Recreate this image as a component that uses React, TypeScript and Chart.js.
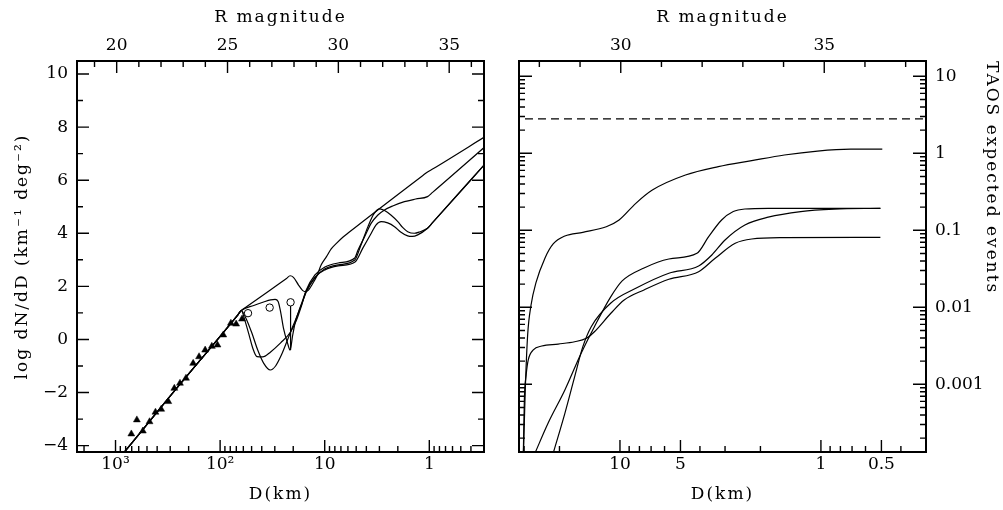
import { useEffect, useRef } from 'react';
import { Chart, registerables } from 'chart.js';

Chart.register(...registerables);

const FONT = 'DejaVu Serif';

// ---------- LEFT PANEL DATA ----------
// shared power-law segment (D in km, log dN/dD)
const HEAD_D = [1000, 316, 67.6, 62.7];
const HEAD_V = [-4.65, -2.24, 0.93, 1.09];

const A_D = [56.8, 34.4, 23.2, 21.4, 19.9, 17.8, 16.3, 15.3, 14.3, 13.1, 11.95, 10.8, 9.62, 8.67, 7.73, 6.67, 5.98, 1.16, 1.04, 0.931, 0.28];
const A_V = [1.21, 1.82, 2.3, 2.4, 2.34, 2.05, 1.85, 1.8, 1.86, 2.09, 2.37, 2.81, 3.12, 3.41, 3.62, 3.86, 4.01, 6.17, 6.31, 6.42, 7.69];

const E_D = [58.1, 53.2, 48.8, 44.4, 39.2, 32.9, 26.4, 21.2, 18.6, 16.7, 15.0, 12.4, 9.95, 7.44, 5.16, 4.8, 4.21, 3.59, 3.1, 2.68, 2.24, 1.73, 1.35, 1.04, 0.931, 0.28];
const E_V = [0.73, 0.21, -0.32, -0.65, -0.66, -0.47, -0.13, 0.28, 0.73, 1.26, 1.86, 2.43, 2.73, 2.88, 3.07, 3.37, 3.82, 4.38, 4.69, 4.88, 5.03, 5.19, 5.29, 5.38, 5.54, 7.33];

const F_D = [56.8, 49.8, 43.7, 38.4, 33.1, 29.5, 25.9, 22.7, 20.3, 18.2, 16.7, 15.0, 12.4, 9.95, 7.44, 5.16, 4.5, 3.86, 3.39, 2.97, 2.68, 2.33, 2.0, 1.8, 1.61, 1.39, 1.24, 1.04, 0.931, 0.28];
const F_V = [0.81, 0.25, -0.4, -0.89, -1.15, -1.0, -0.58, -0.02, 0.47, 0.92, 1.3, 1.79, 2.32, 2.66, 2.81, 2.99, 3.56, 4.25, 4.73, 4.92, 4.86, 4.69, 4.44, 4.22, 4.06, 4.0, 4.05, 4.19, 4.4, 6.7];

const G_D = [47.7, 38.4, 32.9, 29.8, 27.9, 26.4, 24.8, 22.7, 21.4, 20.3, 19.2, 17.8, 16.7, 15.0, 12.4, 9.95, 7.44, 5.13, 4.31, 3.59, 3.24, 2.89, 2.5, 2.15, 1.88, 1.61, 1.45, 1.29, 1.04, 0.931, 0.28];
const G_V = [1.28, 1.41, 1.49, 1.51, 1.43, 1.04, 0.43, -0.13, -0.4, 0.13, 0.62, 1.04, 1.34, 1.83, 2.35, 2.62, 2.77, 2.92, 3.45, 4.0, 4.31, 4.44, 4.39, 4.25, 4.05, 3.9, 3.88, 3.94, 4.19, 4.4, 6.7];

const TRI_D = [706, 625, 548, 473, 415, 366, 313, 274, 242, 212, 181, 159, 139, 120, 106, 93.3, 78.9, 70.3, 61.7];
const TRI_V = [-3.56, -3.03, -3.45, -3.1, -2.74, -2.63, -2.34, -1.84, -1.65, -1.46, -0.9, -0.65, -0.4, -0.26, -0.21, 0.17, 0.61, 0.58, 0.77];

const CIRC_D = [54.1, 33.6, 21.2];
const CIRC_V = [0.99, 1.2, 1.4];

const ERR_D = [21.2, 21.2];
const ERR_V = [1.27, -0.4];

// left axes
const L_X_TICKS = [1000, 100, 10, 1];
const L_X_LABELS = ['10³', '10²', '10', '1'];
const L_X_MINOR = [2000, 900, 800, 700, 600, 500, 400, 300, 200, 90, 80, 70, 60, 50, 40, 30, 20, 9, 8, 7, 6, 5, 4, 3, 2, 0.9, 0.8, 0.7, 0.6, 0.5, 0.4];
const L_TOP_TICKS = [20, 25, 30, 35];
const L_TOP_MINOR = [19, 21, 22, 23, 24, 26, 27, 28, 29, 31, 32, 33, 34, 36];
const L_Y_TICKS = [-4, -2, 0, 2, 4, 6, 8, 10];
const L_Y_MINOR = [-3, -1, 1, 3, 5, 7, 9];

// ---------- RIGHT PANEL DATA ----------
const R1_D = [30.3, 29.6, 28.8, 27.7, 26.2, 23.6, 21.5, 18.8, 15.3, 11.7, 10.1, 8.34, 6.9, 4.72, 3.24, 2.21, 1.52, 1.04, 0.711, 0.495];
const R1_N = [1.0e-4, 8.43e-4, 4.37e-3, 0.0107, 0.0207, 0.0438, 0.0665, 0.0843, 0.0942, 0.111, 0.136, 0.224, 0.333, 0.522, 0.67, 0.802, 0.951, 1.07, 1.13, 1.13];

const R2_D = [30.3, 29.9, 29.3, 28.6, 27.0, 24.5, 20.3, 16.8, 14.7, 13.4, 11.1, 9.53, 7.59, 5.71, 4.06, 3.36, 2.67, 2.21, 1.52, 0.506];
const R2_N = [1.0e-4, 6.38e-4, 1.32e-3, 2.07e-3, 2.79e-3, 3.14e-3, 3.33e-3, 3.57e-3, 3.95e-3, 4.81e-3, 8.36e-3, 0.01245, 0.0168, 0.0231, 0.029, 0.0433, 0.0678, 0.0771, 0.0802, 0.0811];

const R3_D = [26.5, 22.8, 18.8, 15.6, 13.4, 11.1, 9.75, 7.59, 5.71, 4.14, 3.62, 3.12, 2.73, 2.39, 1.83, 0.506];
const R3_N = [1.27e-4, 3.12e-4, 8.43e-4, 2.53e-3, 5.6e-3, 0.01374, 0.022, 0.0324, 0.0424, 0.0502, 0.0826, 0.136, 0.175, 0.189, 0.193, 0.193];

const R4_D = [21.5, 18.8, 16.8, 15.3, 13.9, 11.1, 8.34, 5.71, 4.06, 3.49, 3.0, 2.39, 1.83, 1.26, 0.859, 0.506];
const R4_N = [1.27e-4, 4.2e-4, 1.26e-3, 3.08e-3, 5.6e-3, 0.01138, 0.01766, 0.0277, 0.0344, 0.0478, 0.0748, 0.117, 0.148, 0.175, 0.188, 0.193];

const DASH_D = [40, 0.2];
const DASH_N = [2.8, 2.8];

// right axes
const R_X_TICKS = [10, 5, 1, 0.5];
const R_X_LABELS = ['10', '5', '1', '0.5'];
const R_X_MINOR = [30, 20, 9, 8, 7, 6, 4, 3, 2, 0.9, 0.8, 0.7, 0.6, 0.4];
const R_TOP_TICKS = [30, 35];
const R_TOP_MINOR = [28, 29, 31, 32, 33, 34, 36, 37];
const R_Y_TICKS = [0.001, 0.01, 0.1, 1, 10];
const R_Y_LABELS = ['0.001', '0.01', '0.1', '1', '10'];
const R_Y_MINOR = [
  2e-4, 3e-4, 4e-4, 5e-4, 6e-4, 7e-4, 8e-4, 9e-4,
  2e-3, 3e-3, 4e-3, 5e-3, 6e-3, 7e-3, 8e-3, 9e-3,
  0.02, 0.03, 0.04, 0.05, 0.06, 0.07, 0.08, 0.09,
  0.2, 0.3, 0.4, 0.5, 0.6, 0.7, 0.8, 0.9,
  2, 3, 4, 5, 6, 7, 8, 9,
];

// ---------- helpers ----------
const xy = (ds: number[], vs: number[]) => ds.map((d, i) => ({ x: d, y: vs[i] }));
const tickFont = { family: FONT, size: 17 };
const titleFont = { family: FONT, size: 17 };

const curve = (data: any[]) => ({
  data,
  borderColor: '#000',
  borderWidth: 1.2,
  pointRadius: 0,
  fill: false,
  cubicInterpolationMode: 'monotone',
});

const spacingPlugin = {
  id: 'spacing',
  beforeDraw(chart: any) { chart.ctx.letterSpacing = '2px'; },
  beforeDatasetsDraw(chart: any) { chart.ctx.letterSpacing = '0px'; },
  afterDraw(chart: any) { chart.ctx.letterSpacing = '0px'; },
};

function framePlugin(spec: any) {
  return {
    id: 'frameTicks',
    afterDraw(chart: any) {
      const { ctx, chartArea: a, scales } = chart;
      const bx = scales.x, tx = scales.x2, ys = scales.y;
      const MAJ = 12, MIN = 6;
      ctx.save();
      ctx.strokeStyle = '#000';
      ctx.lineWidth = 1.4;
      ctx.beginPath();
      const vt = (px: number, y0: number, dy: number) => {
        if (px < a.left - 0.5 || px > a.right + 0.5) return;
        ctx.moveTo(px, y0); ctx.lineTo(px, y0 + dy);
      };
      const ht = (py: number, x0: number, dx: number) => {
        if (py < a.top - 0.5 || py > a.bottom + 0.5) return;
        ctx.moveTo(x0, py); ctx.lineTo(x0 + dx, py);
      };
      spec.xMaj.forEach((v: number) => vt(bx.getPixelForValue(v), a.bottom, -MAJ));
      spec.xMin.forEach((v: number) => vt(bx.getPixelForValue(v), a.bottom, -MIN));
      spec.tMaj.forEach((v: number) => vt(tx.getPixelForValue(v), a.top, MAJ));
      spec.tMin.forEach((v: number) => vt(tx.getPixelForValue(v), a.top, MIN));
      spec.yMaj.forEach((v: number) => { const p = ys.getPixelForValue(v); ht(p, a.left, spec.yMajLen); ht(p, a.right, -spec.yMajLen); });
      spec.yMin.forEach((v: number) => { const p = ys.getPixelForValue(v); ht(p, a.left, MIN); ht(p, a.right, -MIN); });
      ctx.stroke();
      ctx.lineWidth = 2;
      ctx.strokeRect(a.left, a.top, a.right - a.left, a.bottom - a.top);
      ctx.restore();
    },
  };
}

const noGrid = { grid: { display: false, drawTicks: false }, border: { display: false } };

function leftConfig(): any {
  return {
    type: 'line',
    data: {
      datasets: [
        { ...curve(xy([...HEAD_D, ...A_D], [...HEAD_V, ...A_V])) },
        { ...curve(xy([...HEAD_D, ...E_D], [...HEAD_V, ...E_V])) },
        { ...curve(xy([...HEAD_D, ...F_D], [...HEAD_V, ...F_V])) },
        { ...curve(xy([...HEAD_D, ...G_D], [...HEAD_V, ...G_V])) },
        { data: xy(ERR_D, ERR_V), borderColor: '#000', borderWidth: 1.2, pointRadius: 0, order: -1 },
        {
          data: xy(TRI_D, TRI_V), showLine: false, pointStyle: 'triangle', pointRadius: 4,
          backgroundColor: '#000', borderColor: '#000', borderWidth: 0.5, order: -2,
        },
        {
          data: xy(CIRC_D, CIRC_V), showLine: false, pointStyle: 'circle', pointRadius: 3.7,
          backgroundColor: '#fff', borderColor: '#000', borderWidth: 1, order: -2,
        },
      ],
    },
    options: {
      responsive: false,
      animation: false,
      events: [],
      layout: { padding: { left: 0, right: 16, top: 0, bottom: 0 } },
      plugins: { legend: { display: false }, tooltip: { enabled: false } },
      scales: {
        x: {
          type: 'logarithmic', position: 'bottom', reverse: true, min: 0.319, max: 2335, ...noGrid,
          afterBuildTicks: (s: any) => { s.ticks = L_X_TICKS.map((value) => ({ value })); },
          afterFit: (s: any) => { s.height = 58; },
          ticks: { autoSkip: false, maxRotation: 0, minRotation: 0, padding: 2, z: 1, color: '#000', font: tickFont, callback: (_v: any, i: number) => L_X_LABELS[i] },
          title: { display: true, text: 'D(km)', color: '#000', font: titleFont, padding: { top: 0, bottom: 5 } },
        },
        x2: {
          type: 'linear', position: 'top', min: 18.21, max: 36.57, ...noGrid,
          afterBuildTicks: (s: any) => { s.ticks = L_TOP_TICKS.map((value) => ({ value })); },
          afterFit: (s: any) => { s.height = 61; },
          ticks: { autoSkip: false, maxRotation: 0, minRotation: 0, padding: 5, z: 1, color: '#000', font: tickFont, callback: (v: any) => String(v) },
          title: { display: true, text: 'R magnitude', color: '#000', font: titleFont, padding: { top: 7, bottom: 0 } },
        },
        y: {
          type: 'linear', position: 'left', min: -4.24, max: 10.49, ...noGrid,
          afterBuildTicks: (s: any) => { s.ticks = L_Y_TICKS.map((value) => ({ value })); },
          afterFit: (s: any) => { s.width = 77; },
          ticks: { autoSkip: false, padding: 9, z: 1, color: '#000', font: tickFont, callback: (v: any) => (v < 0 ? '−' + Math.abs(v) : String(v)) },
          title: { display: true, text: 'log dN/dD (km⁻¹ deg⁻²)', color: '#000', font: titleFont, padding: { top: 12, bottom: 0 } },
        },
      },
    },
    plugins: [
      spacingPlugin,
      framePlugin({ xMaj: L_X_TICKS, xMin: L_X_MINOR, tMaj: L_TOP_TICKS, tMin: L_TOP_MINOR, yMaj: L_Y_TICKS, yMin: L_Y_MINOR, yMajLen: 12 }),
    ],
  };
}

function rightConfig(): any {
  return {
    type: 'line',
    data: {
      datasets: [
        { ...curve(xy(R1_D, R1_N)) },
        { ...curve(xy(R2_D, R2_N)) },
        { ...curve(xy(R3_D, R3_N)) },
        { ...curve(xy(R4_D, R4_N)) },
        { data: xy(DASH_D, DASH_N), borderColor: '#000', borderWidth: 1.2, borderDash: [8, 5], pointRadius: 0 },
      ],
    },
    options: {
      responsive: false,
      animation: false,
      events: [],
      layout: { padding: { left: 19, right: 0, top: 0, bottom: 0 } },
      plugins: { legend: { display: false }, tooltip: { enabled: false } },
      scales: {
        x: {
          type: 'logarithmic', position: 'bottom', reverse: true, min: 0.311, max: 31.8, ...noGrid,
          afterBuildTicks: (s: any) => { s.ticks = R_X_TICKS.map((value) => ({ value })); },
          afterFit: (s: any) => { s.height = 58; },
          ticks: { autoSkip: false, maxRotation: 0, minRotation: 0, padding: 2, z: 1, color: '#000', font: tickFont, callback: (_v: any, i: number) => R_X_LABELS[i] },
          title: { display: true, text: 'D(km)', color: '#000', font: titleFont, padding: { top: 0, bottom: 5 } },
        },
        x2: {
          type: 'linear', position: 'top', min: 27.5, max: 37.5, ...noGrid,
          afterBuildTicks: (s: any) => { s.ticks = R_TOP_TICKS.map((value) => ({ value })); },
          afterFit: (s: any) => { s.height = 61; },
          ticks: { autoSkip: false, maxRotation: 0, minRotation: 0, padding: 5, z: 1, color: '#000', font: tickFont, callback: (v: any) => String(v) },
          title: { display: true, text: 'R magnitude', color: '#000', font: titleFont, padding: { top: 7, bottom: 0 } },
        },
        y: {
          type: 'logarithmic', position: 'right', min: 1.32e-4, max: 15.8, ...noGrid,
          afterBuildTicks: (s: any) => { s.ticks = R_Y_TICKS.map((value) => ({ value })); },
          afterFit: (s: any) => { s.width = 77; },
          ticks: { autoSkip: false, padding: 9, z: 1, color: '#000', font: tickFont, callback: (_v: any, i: number) => R_Y_LABELS[i] },
          title: { display: true, text: 'TAOS expected events', align: 'end', color: '#000', font: titleFont, padding: { top: 1, bottom: 0 } },
        },
      },
    },
    plugins: [
      spacingPlugin,
      framePlugin({ xMaj: R_X_TICKS, xMin: R_X_MINOR, tMaj: R_TOP_TICKS, tMin: R_TOP_MINOR, yMaj: R_Y_TICKS, yMin: R_Y_MINOR, yMajLen: 13 }),
    ],
  };
}

export default function App() {
  const leftRef = useRef<HTMLCanvasElement>(null);
  const rightRef = useRef<HTMLCanvasElement>(null);
  useEffect(() => {
    const c1 = new Chart(leftRef.current as HTMLCanvasElement, leftConfig());
    const c2 = new Chart(rightRef.current as HTMLCanvasElement, rightConfig());
    return () => { c1.destroy(); c2.destroy(); };
  }, []);
  return (
    <div style={{ position: 'absolute', left: 0, top: 0, width: 1003, height: 510, background: '#fff' }}>
      <canvas ref={leftRef} width={500} height={510} style={{ position: 'absolute', left: 0, top: 0 }} />
      <canvas ref={rightRef} width={503} height={510} style={{ position: 'absolute', left: 500, top: 0 }} />
    </div>
  );
}
